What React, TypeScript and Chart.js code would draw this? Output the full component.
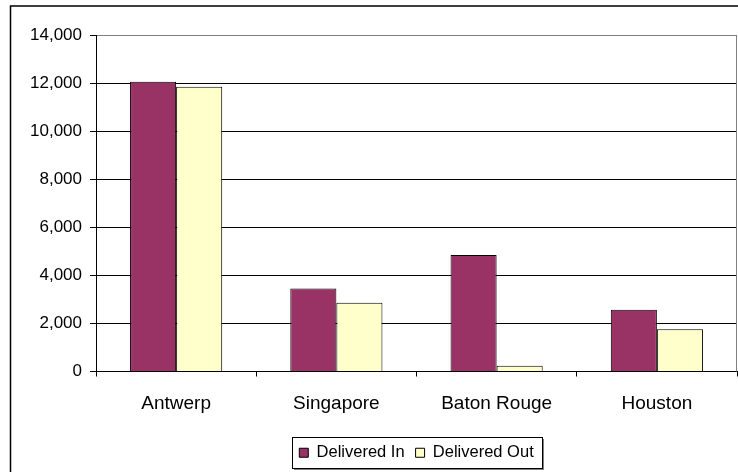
import React, { useEffect, useRef } from "react";
import { Chart, registerables } from "chart.js";

Chart.register(...registerables);

const categories = ["Antwerp", "Singapore", "Baton Rouge", "Houston"];
const deliveredIn = [12050, 3450, 4850, 2570];
const deliveredOut = [11850, 2860, 240, 1760];
const seriesNames = ["Delivered In", "Delivered Out"];

const FONT = "'Liberation Sans', Arial, sans-serif";

const framePlugin = {
  id: "frame",
  beforeDraw(chart: any) {
    const ctx = chart.ctx;
    ctx.save();
    ctx.fillStyle = "#fff";
    ctx.fillRect(0, 0, chart.width, chart.height);
    // outer chart border (cropped at right and bottom)
    ctx.strokeStyle = "#000";
    ctx.lineWidth = 1.5;
    ctx.beginPath();
    ctx.moveTo(10.5, chart.height + 2);
    ctx.lineTo(10.5, 6);
    ctx.lineTo(chart.width + 2, 6);
    ctx.stroke();
    // legend box
    const lg = chart.legend;
    if (lg && lg.legendHitBoxes && lg.legendHitBoxes.length) {
      const hbs = lg.legendHitBoxes;
      const left = Math.min(...hbs.map((h: any) => h.left)) - 7;
      const right = Math.max(...hbs.map((h: any) => h.left + h.width)) + 9;
      const cy = hbs[0].top + hbs[0].height / 2;
      const top = Math.round(cy - 16) + 0.5;
      const h = 31;
      const x0 = Math.round(left) + 0.5;
      const w = Math.round(right - left);
      ctx.fillStyle = "#808080";
      ctx.fillRect(x0 + 1.5, top + 1.5, w, h);
      ctx.fillStyle = "#fff";
      ctx.fillRect(x0, top, w, h);
      ctx.strokeStyle = "#000";
      ctx.lineWidth = 1;
      ctx.strokeRect(x0, top, w, h);
    }
    ctx.restore();
  },
  afterDraw(chart: any) {
    const { ctx, chartArea } = chart;
    ctx.save();
    ctx.strokeStyle = "#808080";
    ctx.lineWidth = 1;
    ctx.beginPath();
    ctx.moveTo(Math.round(chartArea.right) - 0.5, chartArea.top);
    ctx.lineTo(Math.round(chartArea.right) - 0.5, chartArea.bottom);
    ctx.stroke();
    ctx.restore();
  },
};

export default function App() {
  const ref = useRef<HTMLCanvasElement | null>(null);

  useEffect(() => {
    if (!ref.current) return;
    const chart = new Chart(ref.current, {
      type: "bar",
      data: {
        labels: categories,
        datasets: [
          {
            label: seriesNames[0],
            data: deliveredIn,
            backgroundColor: "#993366",
            borderColor: "#000",
            borderWidth: 1,
          },
          {
            label: seriesNames[1],
            data: deliveredOut,
            backgroundColor: "#FFFFCC",
            borderColor: "#000",
            borderWidth: 1,
          },
        ],
      },
      options: {
        responsive: false,
        animation: false,
        layout: { padding: { left: 0, right: 1, top: 35, bottom: 1 } },
        datasets: {
          bar: { categoryPercentage: 0.575, barPercentage: 1 },
        },
        scales: {
          x: {
            afterFit: (s: any) => {
              s.height = 62;
            },
            grid: {
              offset: true,
              drawOnChartArea: false,
              drawTicks: true,
              tickLength: 5,
              color: "#000",
            },
            border: { display: true, color: "#000", width: 1 },
            ticks: {
              color: "#000",
              padding: 16,
              font: { family: FONT, size: 19, lineHeight: 1.2 },
              maxRotation: 0,
            },
          },
          y: {
            min: 0,
            max: 14000,
            afterFit: (s: any) => {
              s.width = 96;
            },
            grid: {
              color: (c: any) => (c.tick && c.tick.value === 14000 ? "#808080" : "#000"),
              tickColor: "#000",
              tickLength: 6,
            },
            border: { display: true, color: "#000", width: 1 },
            ticks: {
              stepSize: 2000,
              color: "#000",
              padding: 8,
              font: { family: FONT, size: 17 },
              callback: (v: any) => Number(v).toLocaleString("en-US"),
            },
          },
        },
        plugins: {
          legend: {
            position: "bottom",
            fullSize: false,
            labels: {
              boxWidth: 9,
              boxHeight: 9,
              padding: 11,
              color: "#000",
              font: { family: FONT, size: 16.5 },
            },
          },
          tooltip: { enabled: false },
        },
      },
      plugins: [framePlugin],
    } as any);
    return () => chart.destroy();
  }, []);

  return (
    <div style={{ position: "absolute", left: 0, top: 0, width: 738, height: 472 }}>
      <canvas ref={ref} width={738} height={472} style={{ display: "block" }} />
    </div>
  );
}
